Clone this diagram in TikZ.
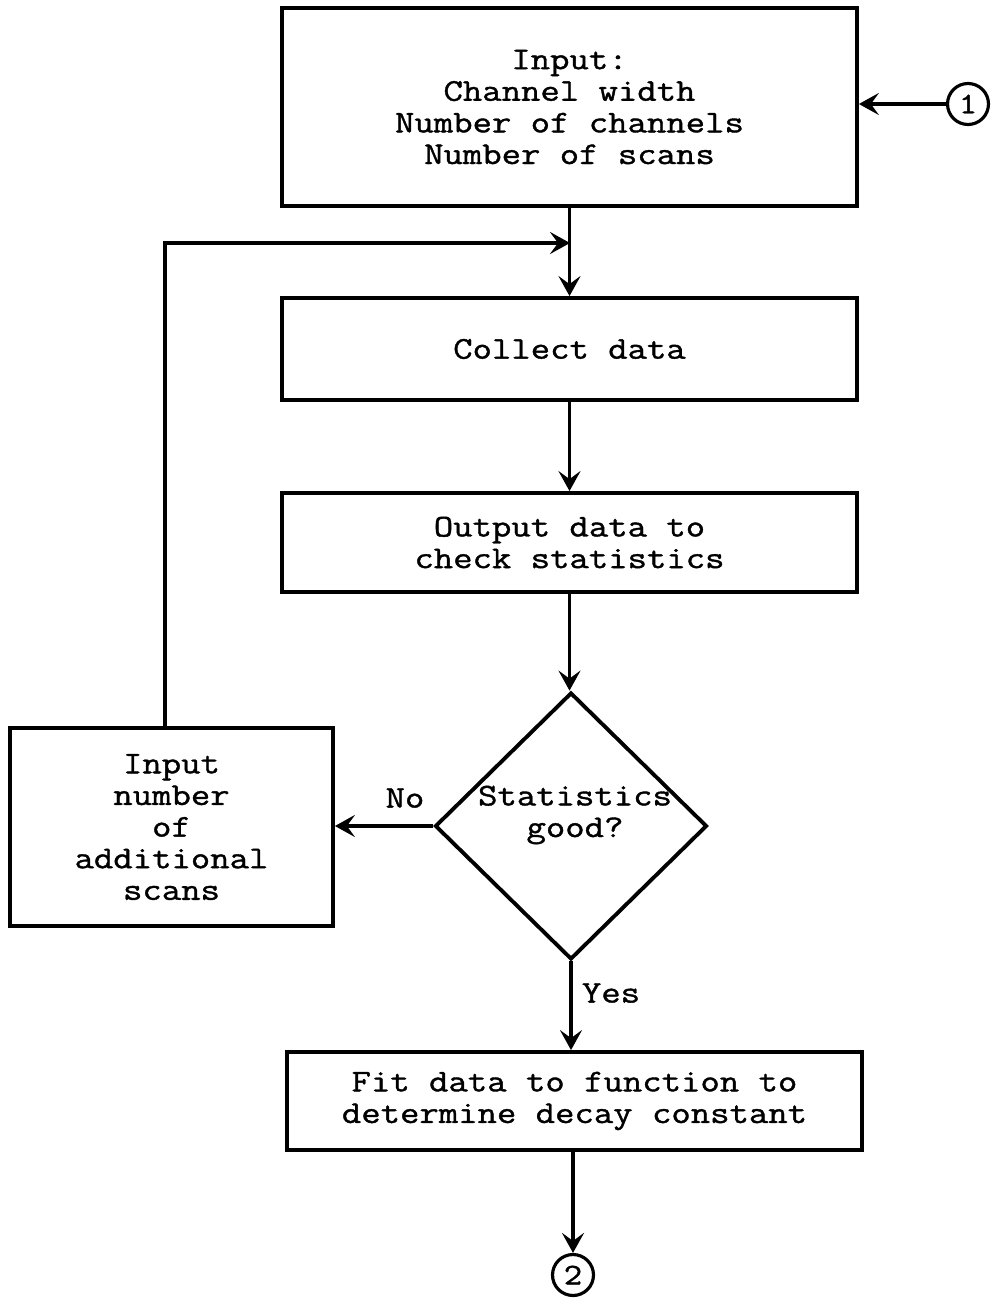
\documentclass[tikz,border=0pt]{standalone}
\usepackage{fontspec}
\newfontfamily\tw[FakeStretch=1.19,FakeBold=1.2]{Latin Modern Mono}
\usetikzlibrary{shapes.geometric,arrows.meta}
\begin{document}
\begin{tikzpicture}[x=0.02cm,y=-0.02cm,
  every node/.style={font=\tw\fontsize{18}{18}\selectfont},
  box/.style={draw, line width=2.2pt, align=center, inner sep=0pt},
  dec/.style={draw, line width=2.2pt, diamond, inner sep=0pt, minimum width=5.44cm, minimum height=5.34cm},
  conn/.style={draw, line width=1.8pt, circle, inner sep=0pt, minimum size=0.82cm, font=\tw\fontsize{17}{17}\selectfont},
  arr/.style={line width=2.2pt, -{Stealth[length=0.4cm,width=0.44cm,inset=0.16cm]}},
  lbl/.style={inner sep=0pt}]
\useasboundingbox (0,0) rectangle (994,1301);
\node[box, minimum width=11.5cm, minimum height=3.96cm] (b1) at (569.5,107)
  {Input:\\ Channel width\\Number of channels\\ Number of scans};
\node[conn] (c1) at (968,104) {1};
\node[box, minimum width=11.5cm, minimum height=2.04cm] (b2) at (569.5,349) {Collect data};
\node[box, minimum width=11.5cm, minimum height=1.98cm] (b3) at (569.5,542.5) {Output data to\\check statistics};
\node[dec] (d) at (571,826) {};
\node[lbl, align=center] (dt) at (575,815) {Statistics\\good?};
\node[box, minimum width=6.46cm, minimum height=3.96cm] (b4) at (171.5,827)
  {Input\\number\\of\\additional\\scans};
\node[box, minimum width=11.5cm, minimum height=1.96cm] (b5) at (574.5,1101)
  {Fit data to function to\\determine decay constant};
\node[conn] (c2) at (573,1275) {2};
\node[lbl] (no) at (405,798) {No};
\node[lbl] (yes) at (611,993) {Yes};
\coordinate (j) at (570,243);
\draw[arr] (c1.west) -- (c1.west -| b1.east);
\draw[arr] (b1.south) -- (b2.north);
\draw[arr] ([xshift=-0.13cm]b4.north) |- (j);
\draw[arr] (b2.south) -- (b3.north);
\draw[arr] (b3.south) -- (b3.south |- d.north);
\draw[arr] (d.west) -- (d.west -| b4.east);
\draw[arr] (d.south) -- (d.south |- b5.north);
\draw[arr] (c2.north |- b5.south) -- (c2.north);
\end{tikzpicture}
\end{document}
